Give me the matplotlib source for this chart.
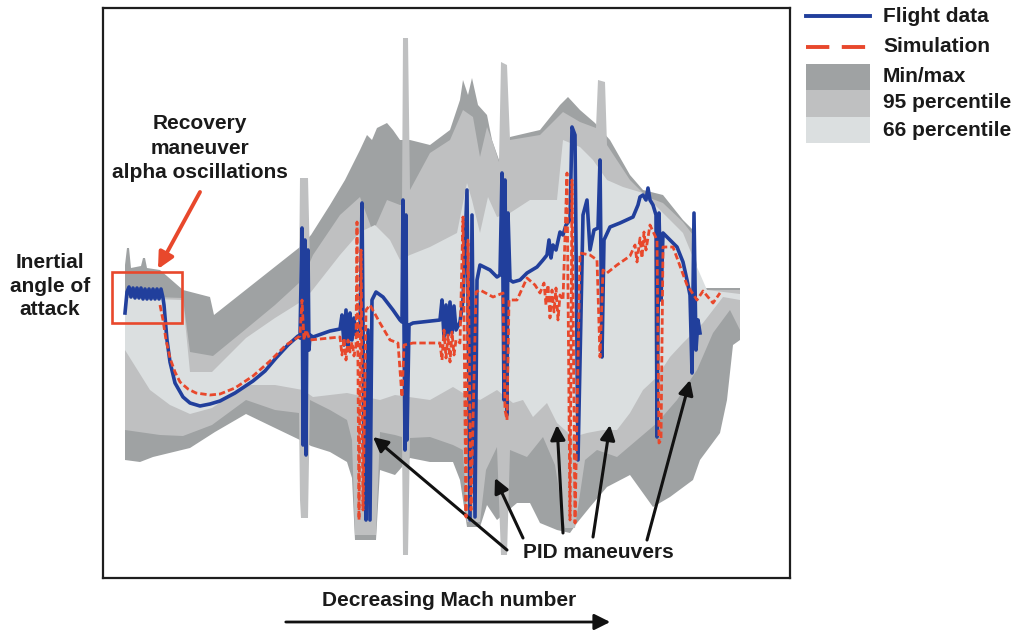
import numpy as np
import matplotlib.pyplot as plt
from matplotlib.lines import Line2D
from matplotlib.patches import Rectangle, FancyArrowPatch

plt.rcParams['font.family'] = ['Liberation Sans', 'DejaVu Sans']
plt.rcParams['font.weight'] = 'bold'

BLUE = '#213f9c'
RED = '#e8482c'
C_MINMAX = '#9fa2a3'
C_95 = '#bfc0c1'
C_66 = '#dbdfe0'

# flight data: sample index along the trajectory vs inertial alpha (arbitrary units)
flight_x = [125, 127, 129, 131, 133, 135, 137, 139, 141, 143, 145, 147, 149, 151, 153, 155, 157, 159, 161, 163,
            164, 167, 170, 175, 183, 190, 200, 210, 220, 235, 253, 265, 276, 288, 298, 300, 302, 303, 305, 306,
            307, 308, 309, 310, 313, 330, 340, 342, 344, 346, 348, 350, 352, 354, 356, 360, 362, 364, 366, 368,
            370, 372, 376, 383, 393, 400, 402, 403, 405, 406, 407, 409, 413, 440, 442, 444, 446, 448, 450, 452,
            454, 456, 460, 463, 467, 470, 472, 475, 477, 480, 490, 497, 500, 502, 504, 505, 507, 508, 510, 513,
            520, 527, 537, 543, 547, 549, 551, 553, 556, 560, 563, 566, 570, 572, 575, 578, 580, 583, 587, 590,
            594, 598, 600, 602, 604, 610, 620, 633, 638, 640, 643, 646, 648, 650, 653, 656, 657, 659, 661, 663,
            670, 677, 683, 687, 690, 692, 694, 696, 698, 700]
flight_alpha = [265, 286, 291, 281, 290, 280, 290, 280, 290, 279, 289, 279, 289, 279, 289, 279, 289, 279, 289, 280,
                273, 238, 216, 195, 181, 175, 172, 174, 177, 185, 197, 207, 220, 233, 242, 240, 350, 133, 338, 123,
                278, 328, 228, 243, 241, 247, 249, 263, 233, 268, 228, 265, 238, 260, 243, 248, 375, 138, 58, 248,
                58, 278, 286, 281, 268, 258, 256, 378, 128, 363, 138, 253, 255, 258, 278, 241, 273, 243, 276, 245,
                272, 248, 256, 278, 388, 58, 363, 61, 298, 313, 308, 301, 303, 405, 178, 398, 163, 365, 298, 296,
                298, 305, 311, 318, 323, 338, 320, 333, 328, 346, 343, 353, 358, 451, 443, 118, 218, 363, 378, 328,
                348, 350, 418, 221, 338, 351, 355, 361, 373, 381, 383, 378, 390, 378, 373, 363, 141, 365, 278, 345,
                338, 331, 316, 298, 283, 205, 365, 228, 258, 245]

# simulation
sim_x = [160, 163, 166, 170, 175, 180, 188, 196, 210, 220, 235, 253, 270, 286, 300, 302, 304, 306, 310, 330,
         340, 342, 344, 346, 348, 350, 352, 354, 356, 357, 359, 361, 363, 366, 370, 380, 390, 398, 400, 402,
         404, 413, 440, 442, 444, 446, 448, 450, 452, 454, 456, 460, 463, 466, 468, 471, 476, 480, 493, 503,
         505, 507, 509, 517, 527, 535, 540, 544, 546, 548, 550, 552, 554, 556, 558, 560, 563, 567, 570, 572,
         575, 580, 590, 597, 600, 603, 607, 617, 630, 635, 637, 640, 642, 644, 646, 650, 657, 659, 661, 663,
         673, 687, 697, 703, 713, 720]
sim_alpha = [273, 258, 238, 220, 206, 196, 189, 185, 183, 184, 190, 202, 217, 233, 242, 278, 238, 248, 238, 240,
             241, 223, 240, 218, 238, 226, 236, 222, 233, 356, 58, 328, 68, 268, 273, 255, 238, 235, 208, 181,
             233, 235, 235, 218, 248, 220, 243, 216, 246, 223, 238, 235, 361, 61, 338, 68, 286, 288, 281, 285,
             168, 158, 278, 278, 300, 293, 285, 295, 273, 293, 260, 288, 266, 290, 258, 283, 278, 405, 58, 398,
             55, 325, 323, 318, 221, 308, 305, 313, 322, 333, 316, 340, 320, 346, 328, 353, 338, 135, 138, 331,
             331, 293, 278, 287, 275, 285]

# dispersion envelopes: upper and lower edges of each band
minmax_top_x = [125, 127, 129, 131, 141, 143, 145, 147, 160, 183, 210, 214, 300, 311, 330, 345, 360, 367, 372, 377,
                387, 393, 400, 410, 430, 450, 460, 463, 468, 472, 478, 487, 492, 499, 510, 540, 560, 568, 580, 595,
                610, 630, 643, 663, 683, 693, 697, 703, 740]
minmax_top = [313, 330, 330, 310, 312, 320, 320, 310, 308, 288, 281, 263, 331, 343, 373, 398, 428, 443, 438, 450,
              455, 448, 438, 438, 433, 448, 478, 498, 483, 500, 473, 463, 438, 418, 441, 448, 473, 481, 468, 455,
              438, 403, 388, 383, 358, 348, 308, 290, 290]
minmax_bot_x = [125, 140, 153, 190, 215, 246, 275, 300, 311, 330, 347, 352, 355, 376, 380, 395, 410, 430, 453, 460,
                467, 480, 487, 497, 517, 530, 540, 557, 570, 577, 590, 607, 630, 653, 670, 693, 700, 720, 727, 733,
                740]
minmax_bot = [118, 116, 121, 130, 146, 164, 150, 138, 132, 126, 116, 100, 38, 38, 108, 103, 120, 116, 116, 98,
              51, 51, 73, 58, 75, 75, 55, 48, 45, 55, 71, 91, 103, 71, 81, 98, 118, 145, 178, 233,
              238]

p95_top_x = [125, 183, 190, 213, 246, 275, 299, 300, 308, 310, 313, 340, 360, 373, 387, 400, 402, 403, 408, 410,
             430, 450, 463, 473, 480, 487, 493, 499, 501, 507, 510, 540, 563, 580, 596, 598, 605, 607, 630, 647,
             663, 683, 693, 697, 703, 740]
p95_top = [282, 280, 226, 222, 249, 273, 295, 400, 400, 316, 323, 363, 381, 346, 378, 373, 373, 540, 540, 388,
           425, 438, 468, 461, 421, 451, 435, 416, 516, 513, 438, 443, 466, 456, 450, 498, 496, 433, 398, 381,
           375, 356, 343, 306, 288, 288]
p95_bot_x = [125, 160, 183, 212, 246, 275, 299, 300, 301, 308, 310, 330, 347, 352, 355, 376, 380, 395, 402, 403,
             408, 410, 430, 453, 463, 467, 480, 486, 497, 501, 507, 510, 527, 543, 555, 565, 575, 585, 597, 617,
             637, 657, 677, 697, 713, 730, 740]
p95_bot = [148, 143, 142, 153, 178, 168, 165, 78, 60, 60, 178, 168, 158, 138, 43, 43, 146, 143, 141, 23,
           23, 140, 141, 133, 128, 56, 56, 108, 131, 23, 23, 128, 121, 141, 113, 50, 50, 118, 128, 121,
           138, 155, 178, 208, 245, 268, 248]

p66_top_x = [125, 183, 190, 212, 246, 275, 299, 311, 340, 360, 375, 390, 400, 410, 430, 457, 467, 472, 480, 488,
             497, 510, 530, 557, 563, 580, 593, 607, 623, 643, 663, 683, 697, 707, 740]
p66_top = [280, 278, 206, 206, 240, 260, 275, 286, 323, 346, 353, 338, 318, 323, 331, 345, 395, 378, 345, 381,
           361, 365, 378, 378, 438, 431, 418, 398, 391, 385, 365, 345, 311, 288, 284]
p66_bot_x = [125, 150, 170, 190, 212, 246, 275, 303, 313, 347, 380, 395, 430, 453, 463, 480, 497, 513, 523, 533,
             547, 557, 573, 587, 603, 617, 630, 643, 657, 670, 683, 703, 723, 740]
p66_bot = [228, 188, 173, 164, 170, 193, 193, 188, 181, 185, 178, 183, 178, 191, 185, 178, 188, 175, 178, 161,
           175, 155, 141, 145, 148, 148, 165, 188, 201, 221, 235, 255, 281, 278]


def fill_band(ax, top_x, top, bot_x, bot, color):
    xs = np.concatenate([top_x, bot_x[::-1]])
    ys = np.concatenate([top, bot[::-1]])
    ax.fill(xs, ys, color=color, lw=0, zorder=1)


W, H = 1020, 632
fig = plt.figure(figsize=(W / 100, H / 100), dpi=100)
ax = fig.add_axes([103 / W, 54 / H, 687 / W, 570 / H])
ax.set_xlim(103, 790)
ax.set_ylim(0, 570)
ax.set_xticks([])
ax.set_yticks([])
for s in ax.spines.values():
    s.set_linewidth(1.6)
    s.set_color('#1e1e1e')

fill_band(ax, minmax_top_x, minmax_top, minmax_bot_x, minmax_bot, C_MINMAX)
fill_band(ax, p95_top_x, p95_top, p95_bot_x, p95_bot, C_95)
fill_band(ax, p66_top_x, p66_top, p66_bot_x, p66_bot, C_66)

ax.plot(flight_x, flight_alpha, color=BLUE, lw=2.6, zorder=3, solid_joinstyle='round')
ax.plot(sim_x, sim_alpha, color=RED, lw=2.0, dashes=(2.3, 1.1), zorder=4)

TXT = '#1a1a1a'
FS = 15

# recovery maneuver callout
ax.add_patch(Rectangle((112, 255), 70, 51, fill=False, ec=RED, lw=1.9, zorder=5))
ax.annotate('', xy=(158, 309), xytext=(200, 386),
            arrowprops=dict(arrowstyle='-|>', color=RED, lw=2.8, mutation_scale=24, shrinkA=0, shrinkB=0))
ax.text(200, 430, 'Recovery\nmaneuver\nalpha oscillations', ha='center', va='center',
        fontsize=FS, linespacing=1.35, color=TXT)

# PID maneuver callouts
pid_tips = [(373, 141), (495, 100), (557, 153), (610, 153), (690, 198)]
pid_tails = [(507, 28), (523, 40), (563, 45), (593, 41), (647, 38)]
for tip, tail in zip(pid_tips, pid_tails):
    ax.annotate('', xy=tip, xytext=tail,
                arrowprops=dict(arrowstyle='-|>', color='#111111', lw=2.2, mutation_scale=22,
                                shrinkA=0, shrinkB=0))
ax.text(598, 25, 'PID maneuvers', ha='center', va='center', fontsize=FS, color=TXT)

# axis captions
fig.text(50 / W, 1 - 286 / H, 'Inertial\nangle of\nattack', ha='center', va='center',
         fontsize=FS, linespacing=1.3, color=TXT)
fig.text(449 / W, 1 - 600 / H, 'Decreasing Mach number', ha='center', va='center',
         fontsize=FS, color=TXT)
fig.add_artist(FancyArrowPatch((283 / W, 1 - 622 / H), (613 / W, 1 - 622 / H), transform=fig.transFigure,
                               arrowstyle='-|>', color='#111111', lw=2.0, mutation_scale=24))

# legend, drawn by hand so the swatches stack without gaps
lx0, lx1, tx = 806 / W, 870 / W, 883 / W
fig.add_artist(Line2D([lx0, lx1], [1 - 16 / H] * 2, color=BLUE, lw=2.8, transform=fig.transFigure))
fig.add_artist(Line2D([lx0, lx1], [1 - 47 / H] * 2, color=RED, lw=2.8, dashes=(6.0, 3.2),
                      transform=fig.transFigure))
swatches = [(C_MINMAX, 64, 90), (C_95, 90, 117), (C_66, 117, 143)]
for color, y0, y1 in swatches:
    fig.add_artist(Rectangle((lx0, 1 - y1 / H), lx1 - lx0, (y1 - y0) / H, color=color, lw=0,
                             transform=fig.transFigure))
labels = ['Flight data', 'Simulation', 'Min/max', '95 percentile', '66 percentile']
label_y = [16, 47, 76, 103, 130]
for lab, y in zip(labels, label_y):
    fig.text(tx, 1 - y / H, lab, ha='left', va='center', fontsize=FS, color=TXT)

fig.savefig('out.png', dpi=100)
